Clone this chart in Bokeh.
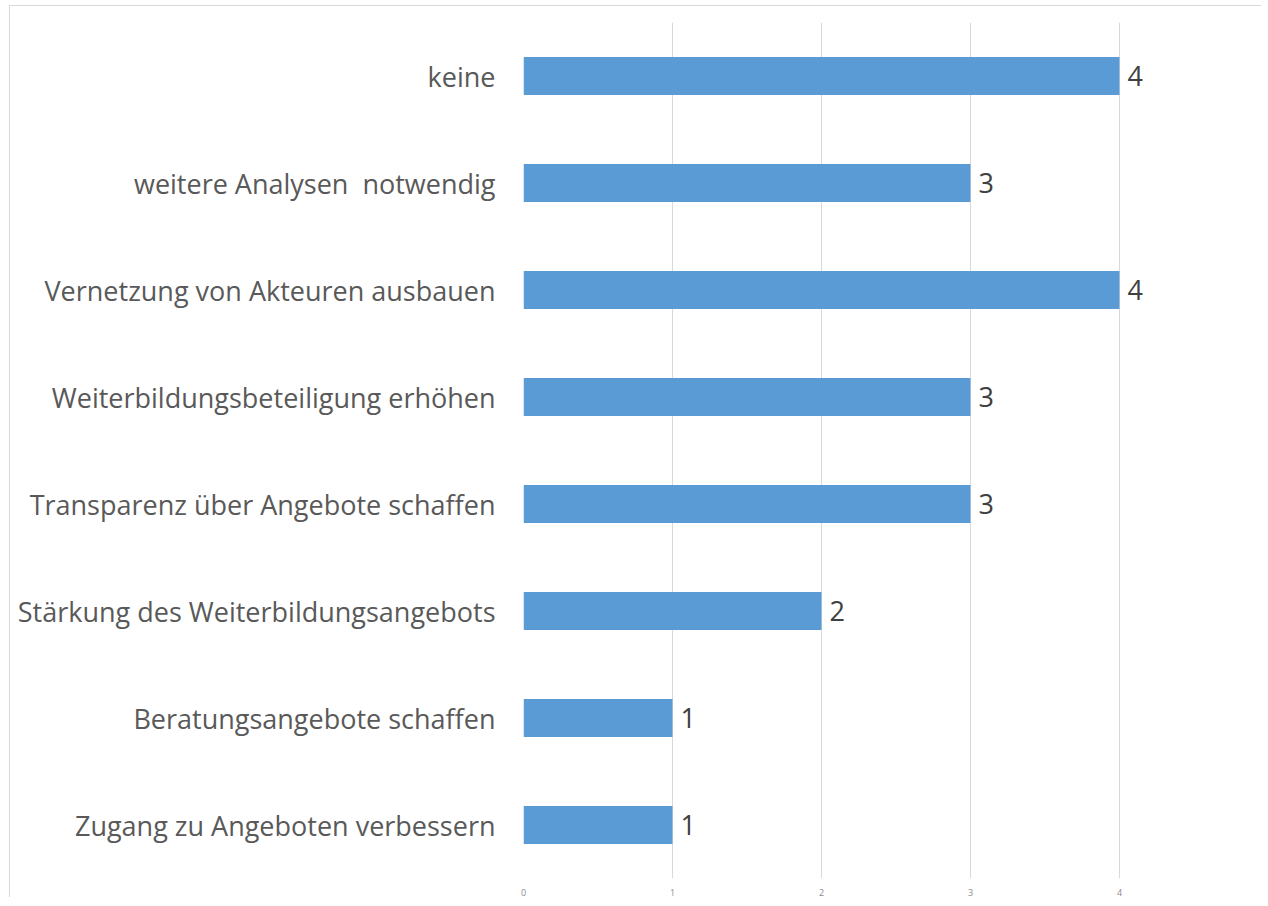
from bokeh.plotting import figure
from bokeh.models import ColumnDataSource, FixedTicker, FactorRange, Range1d
from bokeh.core.properties import value
from bokeh.embed import file_html
from bokeh.resources import INLINE

categories = [
    "Zugang zu Angeboten verbessern",
    "Beratungsangebote schaffen",
    "Stärkung des Weiterbildungsangebots",
    "Transparenz über Angebote schaffen",
    "Weiterbildungsbeteiligung erhöhen",
    "Vernetzung von Akteuren ausbauen",
    "weitere Analysen\u00a0 notwendig",
    "keine",
]
counts = [1, 1, 2, 3, 3, 4, 3, 4]
x_ticks = [0, 1, 2, 3, 4, 5]

src = ColumnDataSource(dict(cat=categories, val=counts, lab=[str(v) for v in counts]))

p = figure(
    width=1252, height=892,
    y_range=FactorRange(factors=categories, range_padding=0),
    x_range=Range1d(0, 4.96),
    output_backend="svg", toolbar_location=None,
    min_border_left=513, min_border_right=0, min_border_top=16, min_border_bottom=10,
)
p.styles = {"border-top": "1px solid #d9d9d9", "border-left": "1px solid #d9d9d9",
            "margin-left": "9px", "margin-top": "5px"}

p.hbar(y="cat", right="val", left=0, height=0.355, source=src,
       fill_color="#5B9BD5", line_color=None)
p.text(x="val", y="cat", text="lab", source=src, x_offset=8,
       text_baseline="middle", text_align="left",
       text_font=value("Open Sans"), text_font_size="27px", text_color="#404040")

p.outline_line_color = None
p.ygrid.grid_line_color = None
p.xgrid.grid_line_color = "#d9d9d9"
p.xgrid.grid_line_width = 1

p.xaxis.ticker = FixedTicker(ticks=x_ticks)
p.xaxis.axis_line_color = None
p.xaxis.major_tick_line_color = None
p.xaxis.minor_tick_line_color = None
p.xaxis.major_tick_out = 0
p.xaxis.major_tick_in = 0
p.xaxis.major_label_text_font = "Open Sans"
p.xaxis.major_label_text_font_size = "9px"
p.xaxis.major_label_text_color = "#8c8c8c"
p.xaxis.major_label_standoff = 10

p.yaxis.axis_line_color = None
p.yaxis.major_tick_line_color = None
p.yaxis.major_tick_out = 0
p.yaxis.major_tick_in = 0
p.yaxis.major_label_text_font = "Open Sans"
p.yaxis.major_label_text_font_size = "27px"
p.yaxis.major_label_text_color = "#595959"
p.yaxis.major_label_standoff = 28

open("out.html", "w").write(file_html(p, INLINE))
